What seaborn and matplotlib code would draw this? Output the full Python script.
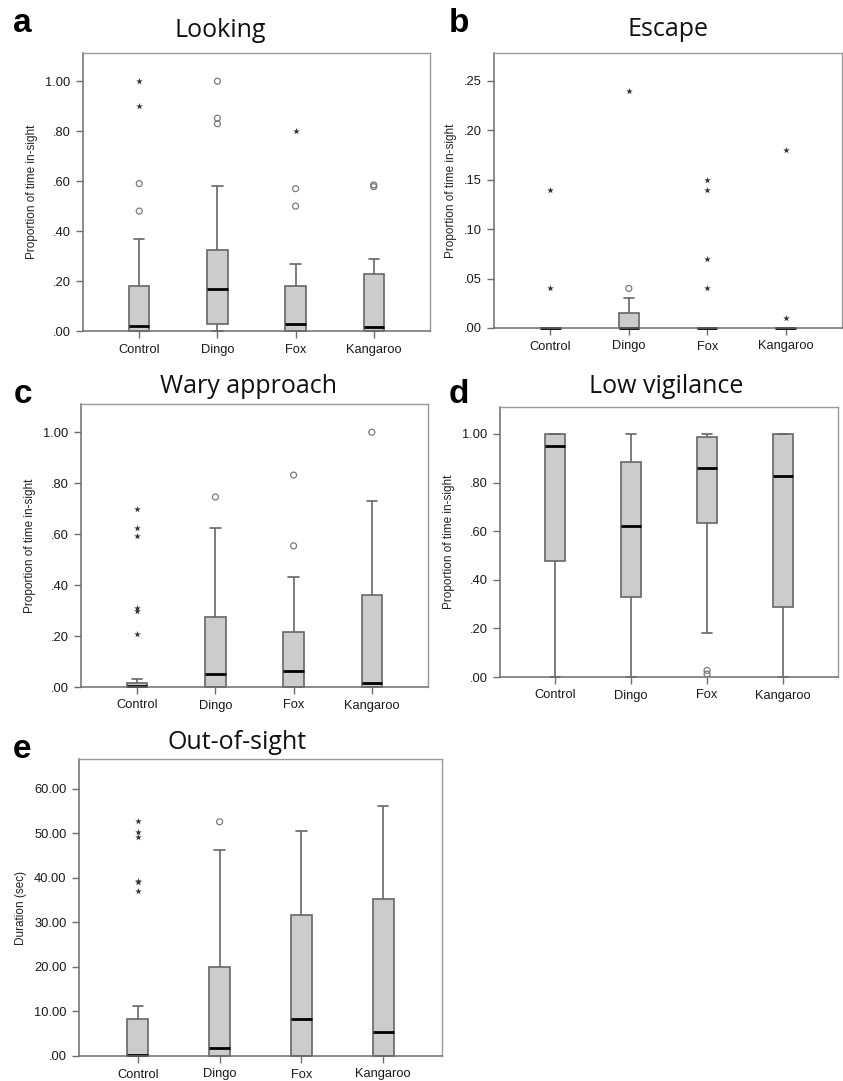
import numpy as np
import pandas as pd
import matplotlib
matplotlib.use("Agg")
import matplotlib.pyplot as plt
from matplotlib.ticker import FuncFormatter, MultipleLocator
import seaborn as sns

groups = ["Control", "Dingo", "Fox", "Kangaroo"]

# box summaries per group: whisker low, q1, median, q3, whisker high
looking_box = [[0, 0, 0.02, 0.181, 0.37],
               [0, 0.03, 0.17, 0.325, 0.58],
               [0, 0, 0.03, 0.18, 0.27],
               [0, 0, 0.015, 0.23, 0.29]]
looking_circles = [[0.59, 0.48], [1.00, 0.852, 0.83], [0.57, 0.50], [0.585, 0.578]]
looking_stars = [[1.00, 0.90], [], [0.80], []]

escape_box = [[0, 0, 0, 0, 0],
              [0, 0, 0, 0.015, 0.03],
              [0, 0, 0, 0, 0],
              [0, 0, 0, 0, 0]]
escape_circles = [[], [0.04], [], []]
escape_stars = [[0.14, 0.04], [0.24], [0.15, 0.14, 0.07, 0.04], [0.18, 0.01]]

wary_box = [[0, 0, 0.005, 0.017, 0.033],
            [0, 0, 0.051, 0.273, 0.625],
            [0, 0, 0.063, 0.215, 0.43],
            [0, 0, 0.017, 0.36, 0.731]]
wary_circles = [[], [0.746], [0.832, 0.554], [1.00]]
wary_stars = [[0.70, 0.625, 0.594, 0.31, 0.30, 0.207], [], [], []]

lowvig_box = [[0, 0.477, 0.951, 1.00, 1.00],
              [0, 0.331, 0.621, 0.886, 1.00],
              [0.18, 0.632, 0.862, 0.986, 1.00],
              [0, 0.29, 0.826, 1.00, 1.00]]
lowvig_circles = [[], [], [0.027, 0.012], []]
lowvig_stars = [[], [], [], []]

oos_box = [[0, 0, 0.2, 8.23, 11.3],
           [0, 0, 1.87, 19.9, 46.2],
           [0, 0, 8.38, 31.6, 50.5],
           [0, 0, 5.31, 35.2, 56.1]]
oos_circles = [[], [52.6], [], []]
oos_stars = [[52.8, 50.4, 49.2, 39.4, 39.0, 37.0], [], [], []]

sns.set_theme(style="white")
plt.rcParams["font.family"] = ["Liberation Sans", "DejaVu Sans"]

W, H = 843, 1081
fig = plt.figure(figsize=(W / 100, H / 100), dpi=100)


def px_axes(left, top, right, bottom):
    return fig.add_axes([left / W, 1 - bottom / H, (right - left) / W, (bottom - top) / H])


def spss_fmt(v, pos):
    s = f"{v:.2f}"
    return s[1:] if s.startswith("0") else s


def to_long(lists):
    rows = [(g, v) for g, vals in zip(groups, lists) for v in vals]
    return pd.DataFrame(rows, columns=["group", "value"])


def draw_panel(ax, box, circles, stars, top, step, ylabel):
    sns.boxplot(data=to_long(box), x="group", y="value", order=groups, ax=ax,
                whis=(0, 100), showfliers=False, width=0.26, color="#cccccc",
                saturation=1, linecolor="#666666", linewidth=1.2,
                medianprops=dict(color="black", linewidth=2))
    # flat boxes sit on the zero line, so keep them unclipped
    for line in ax.lines:
        line.set_clip_on(False)
    for patch in ax.patches:
        patch.set_clip_on(False)
    circ = to_long(circles)
    if len(circ):
        sns.stripplot(data=circ, x="group", y="value", order=groups, ax=ax,
                      jitter=False, marker="o", size=4.3, color="#7a7a7a",
                      facecolor="none", edgecolor="#7a7a7a", linewidth=0.9, zorder=5)
    star = to_long(stars)
    if len(star):
        sns.stripplot(data=star, x="group", y="value", order=groups, ax=ax,
                      jitter=False, marker="*", size=5, color="#333333",
                      linewidth=0, zorder=5)
    ax.set_xlim(-0.72, 3.72)
    ax.set_ylim(0, top)
    ax.yaxis.set_major_locator(MultipleLocator(step))
    ax.yaxis.set_major_formatter(FuncFormatter(spss_fmt))
    ax.set_xlabel("")
    ax.set_ylabel(ylabel, fontsize=8.5, color="#222222", labelpad=5)
    ax.tick_params(axis="both", bottom=True, left=True, direction="out", length=5,
                   width=1, color="#6e6e6e", labelsize=9.3, labelcolor="#1a1a1a", pad=4)
    for side in ["left", "bottom"]:
        ax.spines[side].set_color("#6e6e6e")
        ax.spines[side].set_linewidth(1.1)
    for side in ["top", "right"]:
        ax.spines[side].set_color("#9a9a9a")
        ax.spines[side].set_linewidth(1.0)


ylab = "Proportion of time in-sight"
ax_a = px_axes(83, 53, 430, 331)
draw_panel(ax_a, looking_box, looking_circles, looking_stars, 1.113, 0.2, ylab)
ax_b = px_axes(494, 53, 842, 328)
draw_panel(ax_b, escape_box, escape_circles, escape_stars, 0.278, 0.05, ylab)
ax_c = px_axes(81, 404, 428, 687)
draw_panel(ax_c, wary_box, wary_circles, wary_stars, 1.111, 0.2, ylab)
ax_d = px_axes(500, 407, 838, 677)
draw_panel(ax_d, lowvig_box, lowvig_circles, lowvig_stars, 1.111, 0.2, ylab)
ax_e = px_axes(79, 759, 442, 1056)
draw_panel(ax_e, oos_box, oos_circles, oos_stars, 66.7, 10, "Duration (sec)")

titles = [("Looking", 220, 37), ("Escape", 668, 36), ("Wary approach", 248, 393),
          ("Low vigilance", 666, 393), ("Out-of-sight", 237, 749)]
for txt, x, y in titles:
    fig.text(x / W, 1 - y / H, txt, ha="center", va="baseline", fontsize=18,
             family=["Open Sans", "DejaVu Sans"], color="#111111")

letters = [("a", 13, 32), ("b", 449, 32), ("c", 14, 403), ("d", 449, 403), ("e", 13, 758)]
for txt, x, y in letters:
    fig.text(x / W, 1 - y / H, txt, ha="left", va="baseline", fontsize=24,
             fontweight="bold", color="black")

fig.savefig("out.png", dpi=100)
